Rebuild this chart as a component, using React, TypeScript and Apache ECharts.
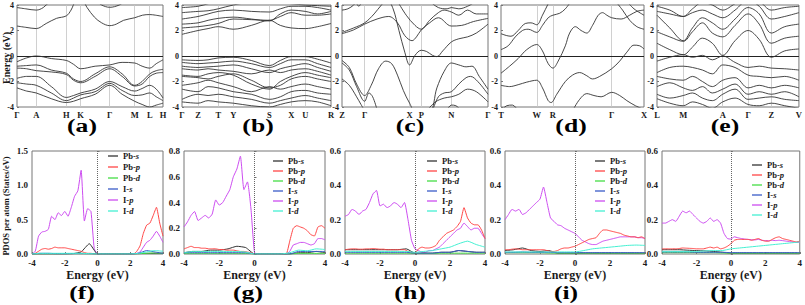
import React, { useEffect, useRef } from "react";
import * as echarts from "echarts";

const SERIF = '"Liberation Serif", "DejaVu Serif", "Times New Roman", serif';

// ---------- band structure: high-symmetry points (fraction of path, %) ----------
const A_KPOS = [0, 13.2, 33.8, 43.6, 63.5, 80.6, 90.9, 100];
const A_KLAB = ["Γ", "A", "H", "K", "Γ", "M", "L", "H"];
const B_KPOS = [0, 10.8, 24.3, 34.4, 58.7, 73.3, 82.7, 100];
const B_KLAB = ["Γ", "Z", "T", "Y", "S", "X", "U", "R"];
const C_KPOS = [0, 15.5, 46.3, 54.3, 74.9, 100];
const C_KLAB = ["Z", "Γ", "X", "P", "N", "Γ"];
const D_KPOS = [0, 25, 36.3, 77.4, 100];
const D_KLAB = ["T", "W", "R", "Γ", "X"];
const E_KPOS = [0, 18.5, 46.3, 64.2, 80.6, 100];
const E_KLAB = ["L", "M", "A", "Γ", "Z", "V"];

// ---------- (a) bands as [k, E] ----------
const A_BANDS = [
  [[0,2.35],[6,2.25],[13.2,2.15],[20,2.55],[27,2.95],[33.8,3.15],[37,3.6],[40,4.3],[43.6,4.6],[48,3.8],[53,3.05],[58,2.6],[63.5,2.38],[68,2.5],[73,2.8],[80.6,3.0],[86,3.2],[90.9,3.25],[95,3.2],[100,3.1]],
  [[0,3.8],[6,3.7],[13.2,3.6],[18,3.8],[23,4.3],[30,4.6],[50,4.6],[58,4.0],[63.5,3.82],[70,4.0],[75,4.4]],
  [[0,-0.45],[6.6,-0.15],[13.2,0],[23.5,-0.2],[33.8,-0.35],[38.7,-0.65],[43.6,-1.0],[53.5,-0.8],[63.5,-0.7],[72,-0.5],[80.6,-0.55],[85.7,-0.8],[90.9,-0.95],[95.4,-0.6],[100,-0.3]],
  [[0,-0.8],[6.6,-0.75],[13.2,-0.7],[23.5,-1.1],[33.8,-1.35],[38.7,-1.8],[43.6,-2.0],[53.5,-1.4],[63.5,-0.85],[72,-1.4],[80.6,-2.3],[85.7,-2.0],[90.9,-1.4],[95.4,-1.15],[100,-1.05]],
  [[0,-0.95],[6.6,-1.0],[13.2,-1.15],[23.5,-1.25],[33.8,-1.45],[38.7,-1.9],[43.6,-2.1],[53.5,-1.6],[63.5,-1.0],[72,-1.6],[80.6,-2.35],[85.7,-2.2],[90.9,-1.6],[95.4,-1.35],[100,-1.3]],
  [[0,-1.75],[6.6,-1.6],[13.2,-1.6],[23.5,-2.4],[33.8,-3.25],[38.7,-3.1],[43.6,-2.9],[53.5,-2.6],[63.5,-2.0],[72,-2.4],[80.6,-2.75],[85.7,-2.55],[90.9,-2.3],[95.4,-2.6],[100,-3.3]],
  [[0,-2.1],[6.6,-2.2],[13.2,-2.3],[23.5,-2.9],[33.8,-3.5],[38.7,-3.3],[43.6,-3.05],[53.5,-2.8],[63.5,-2.15],[72,-2.7],[80.6,-3.1],[85.7,-3.05],[90.9,-2.9],[95.4,-3.2],[100,-3.5]],
  [[0,-2.5],[6.6,-2.75],[13.2,-2.9],[23.5,-3.35],[33.8,-3.65],[38.7,-3.55],[43.6,-3.35],[53.5,-3.0],[63.5,-2.3],[72,-3.0],[80.6,-3.55],[85.7,-3.8],[90.9,-4.0],[95.4,-3.85],[100,-3.7]],
];

// ---------- (b) bands on a shared k sampling ----------
const B_SAMPLE = [0, 10.8, 17.5, 24.3, 34.4, 46.5, 58.7, 66, 73.3, 82.7, 91, 100];
const B_BANDS = [
  [1.7, 2.0, 2.15, 2.3, 2.1, 2.4, 2.8, 2.4, 2.2, 2.15, 2.3, 2.55],
  [2.2, 2.3, 2.4, 2.55, 2.9, 2.85, 2.8, 3.1, 3.4, 3.2, 3.2, 3.3],
  [2.5, 2.6, 2.8, 2.95, 3.05, 2.9, 2.75, 3.3, 3.6, 3.5, 3.3, 3.5],
  [2.9, 3.1, 3.3, 3.5, 3.6, 3.5, 3.45, 3.7, 3.9, 3.9, 3.8, 3.6],
  [3.4, 3.5, 3.55, 3.7, 4.0, 4.2, 4.2, 4.2, 4.1, 4.0, 3.95, 3.9],
  [3.8, 3.9, 4.1, 4.3, 4.4, 4.4, 4.5, 4.4, 4.3, 4.2, 4.2, 4.3],
  [-0.3, -0.35, -0.3, -0.15, -0.1, -0.35, -0.75, -0.35, -0.05, -0.05, -0.25, -0.55],
  [-0.5, -0.6, -0.55, -0.5, -0.4, -0.6, -0.9, -0.6, -0.3, -0.3, -0.6, -0.9],
  [-0.8, -0.9, -0.85, -0.8, -0.7, -1.0, -1.3, -1.0, -0.8, -0.6, -0.9, -1.2],
  [-1.0, -1.1, -1.0, -1.1, -1.2, -1.4, -1.1, -1.3, -1.1, -1.0, -1.2, -1.5],
  [-1.5, -1.6, -1.4, -1.3, -1.5, -2.2, -2.6, -2.0, -1.6, -1.3, -1.5, -1.7],
  [-1.6, -1.7, -1.8, -1.6, -1.4, -1.9, -2.5, -2.3, -1.8, -1.6, -1.8, -2.0],
  [-2.3, -2.1, -1.9, -2.1, -2.4, -2.8, -2.4, -2.6, -2.4, -2.2, -2.4, -2.6],
  [-2.6, -2.8, -2.4, -2.5, -2.8, -3.0, -3.4, -3.2, -2.8, -2.7, -2.9, -3.0],
  [-3.4, -3.0, -3.1, -3.0, -3.2, -3.4, -3.7, -3.5, -3.3, -3.1, -3.3, -3.5],
  [-3.6, -3.7, -3.5, -3.6, -3.7, -3.9, -4.0, -3.8, -3.6, -3.5, -3.6, -3.9],
];

// ---------- (c) bands as [k, E] ----------
const C_BANDS = [
  [[0,1.85],[8,2.2],[15.5,2.6],[22,3.3],[27,4.0],[31,4.4],[35,3.7],[39,2.0],[43,0.3],[46.3,-0.7],[50,0.05],[54.3,0.45],[58,0.35],[62,0.05],[65,-0.05],[69,0.4],[74.9,1.1],[80,1.35],[86,1.5],[92,1.8],[100,2.5]],
  [[0,1.75],[8,2.05],[15.5,2.5],[24,2.9],[32,3.1],[38,2.6],[43,1.6],[48,1.2],[51,1.5],[54.3,2.05],[60,2.6],[66,3.0],[74.9,2.35],[82,2.4],[90,2.7],[100,2.95]],
  [[38,4.3],[44,3.2],[50,2.4],[54.3,2.1],[60,2.8],[66,3.4],[70,3.6],[74.9,3.45],[80,3.2],[86,3.6],[92,3.3],[100,3.3]],
  [[0,3.6],[4,3.7],[8,4.0],[10,4.3]],
  [[9,4.4],[11.5,3.9],[14,4.4]],
  [[60,4.3],[66,3.8],[72,3.7],[74.9,3.8],[80,3.7],[86,3.9],[92,4.3]],
  [[0,-0.35],[5,-0.9],[10,-2.2],[15.5,-3.1],[20,-2.3],[25,-1.0],[30,-0.4],[34,-0.6],[38,-1.5],[42,-2.7],[46.3,-3.7],[50,-4.3],[60,-4.3],[65,-2.5],[70,-1.2],[74.9,-0.55],[80,-0.7],[85,-0.85],[89,-0.8],[94,-1.6],[100,-2.6]],
  [[0,-0.55],[5,-1.1],[10,-2.4],[15.5,-3.55],[18.5,-2.9],[21,-3.2],[24,-4.2]],
  [[0,-1.8],[5,-2.3],[10,-3.2],[13,-3.8],[15.5,-4.3]],
  [[62,-4.3],[66,-3.2],[70,-2.9],[74.9,-2.8],[80,-2.2],[85,-1.7],[88,-1.6],[93,-2.0],[100,-3.0]],
  [[58,-4.3],[64,-3.6],[70,-3.3],[74.9,-3.2],[80,-3.0],[86,-2.6],[92,-2.8],[100,-3.6]],
  [[72,-4.2],[75,-3.85],[78,-3.9],[81,-4.2]],
];

// ---------- (d) bands as [k, E] ----------
const D_BANDS = [
  [[0,1.75],[4,1.6],[7,1.55],[12,2.0],[17,2.55],[21,2.6],[25,2.45],[29,3.2],[33,4.1],[35,4.5]],
  [[0,0.5],[5,0.8],[10,1.5],[15,2.0],[19,2.1],[25,1.85],[29,2.4],[33,3.0],[36.3,3.2],[41,3.35],[45,3.7],[49,4.3]],
  [[0,-1.35],[6,-0.8],[12,-0.2],[18,0.5],[25,0.9],[29,0.4],[33,-0.6],[36.3,-0.95],[40,-0.4],[45,0.8],[48,1.8],[52,2.3],[56,2.0],[60,1.8],[64,2.4],[68,3.2],[71,3.4],[74,3.2],[77.4,3.0],[84,2.9],[90,3.2],[95,3.5],[100,3.6]],
  [[80,4.3],[85,3.6],[90,2.8],[95,2.3],[100,2.1]],
  [[88,4.3],[93,3.7],[100,3.2]],
  [[0,-2.3],[6,-2.4],[12,-2.25],[18,-2.05],[25,-1.9],[29,-2.5],[33,-3.5],[35,-3.65],[39,-3.0],[45,-2.0],[50,-1.5],[55,-1.3],[60,-1.55],[64,-1.8],[69,-1.6],[77.4,-1.0],[83,-0.4],[88,0.3],[93,0.85],[97,0.8],[100,0.55]],
  [[0,-4.3],[4,-3.9],[8,-3.85],[12,-4.3]],
  [[50,-4.3],[55,-3.4],[60,-2.95],[65,-3.1],[70,-3.2],[77.4,-2.85],[83,-3.1],[88,-3.5],[94,-3.9],[100,-4.2]],
];

// ---------- (e) bands on a shared k sampling ----------
const E_SAMPLE = [0, 9, 18.5, 25, 32, 39, 46.3, 55, 64.2, 72, 80.6, 90, 100];
const E_BANDS = [
  [1.0, 0.5, 0.1, 0.7, 1.4, 1.0, 0.05, 1.2, 2.0, 1.3, -0.1, 0.4, 0.55],
  [1.9, 1.5, 1.15, 1.9, 2.6, 1.8, 1.5, 2.4, 3.3, 2.5, 1.0, 1.4, 1.55],
  [3.2, 2.2, 1.2, 2.2, 3.0, 2.6, 2.1, 2.9, 3.8, 3.3, 1.8, 2.3, 2.5],
  [3.5, 3.3, 3.1, 3.4, 3.6, 3.3, 3.0, 3.6, 4.4, 3.9, 2.9, 3.1, 3.4],
  [3.9, 3.6, 3.1, 3.7, 4.2, 4.0, 3.6, 4.1, 4.6, 4.3, 3.6, 3.8, 3.9],
  [-0.4, -0.1, 0.1, -0.1, 0.05, -0.3, 0.0, -0.5, -0.9, -0.8, -0.95, -1.0, -1.1],
  [-1.3, -0.9, -0.8, -0.9, -1.1, -1.4, -0.7, -0.9, -1.5, -1.6, -1.7, -1.6, -1.9],
  [-1.6, -1.8, -1.9, -1.6, -2.0, -2.4, -1.9, -1.7, -2.5, -2.3, -2.5, -2.3, -2.5],
  [-2.4, -2.1, -2.5, -2.7, -2.4, -2.9, -2.6, -2.2, -3.0, -2.8, -3.0, -2.8, -3.2],
  [-3.0, -3.3, -3.1, -2.9, -3.3, -3.5, -3.0, -2.6, -3.4, -3.3, -3.2, -3.4, -3.5],
  [-3.35, -3.7, -3.9, -3.6, -3.8, -4.1, -3.6, -3.3, -3.8, -3.9, -3.7, -3.9, -4.1],
];

// ---------- PDOS ----------
const PDOS_NAMES = ["Pb-s", "Pb-p", "Pb-d", "I-s", "I-p", "I-d"];
const PDOS_COLORS = ["#333333", "#ff4646", "#44dd44", "#3a5bc8", "#cc4cf0", "#45f0d2"];
const ENERGY = [-4,-3.8,-3.6,-3.4,-3.2,-3,-2.8,-2.6,-2.4,-2.2,-2,-1.8,-1.6,-1.4,-1.2,-1,-0.8,-0.6,-0.4,-0.2,0,0.2,0.4,0.6,0.8,1,1.2,1.4,1.6,1.8,2,2.2,2.4,2.6,2.8,3,3.2,3.4,3.6,3.8,4];
const ENERGY_COARSE = [-4,-3.5,-3,-2.5,-2,-1.5,-1,-0.5,0,0.5,1,1.5,2,2.5,3,3.5,4];

// (f)
const F_PBS = [0,0,0,0,0,0.005,0.03,0.15,0,0,0,0,0,0.005,0.01,0.01,0.01];
const F_PBP = [0,0.01,0.04,0.07,0.08,0.07,0.08,0.1,0.09,0.09,0.09,0.08,0.07,0.06,0.05,0.04,0.02,0.01,0.01,0,0, 0,0,0,0,0,0,0,0,0,0,0, 0.04,0.12,0.3,0.42,0.45,0.56,0.68,0.45,0.26];
const F_PBD = [0,0.005,0.005,0.005,0.005,0.005,0.005,0.003,0,0,0,0,0,0.005,0.01,0.015,0.01];
const F_IS = [0,0.01,0.01,0.005,0.005,0.005,0.005,0.003,0,0,0,0,0,0.01,0.05,0.03,0.01];
const F_IP = [0,0.04,0.26,0.32,0.33,0.36,0.55,0.5,0.6,0.56,0.62,0.55,0.68,0.84,0.92,1.22,0.48,0.66,0.62,0.08,0, 0,0,0,0,0,0,0,0,0,0,0, 0.01,0.03,0.1,0.17,0.2,0.26,0.33,0.26,0.17];
const F_ID = [0,0.01,0.01,0.01,0.01,0.01,0.01,0.005,0,0,0,0,0,0.01,0.03,0.05,0.04];
// (g)
const G_PBS = [0.01,0.02,0.02,0.03,0.03,0.04,0.06,0.05,0,0,0,0,0,0.01,0.01,0.02,0.01];
const G_PBP = [0.04,0.05,0.06,0.05,0.05,0.045,0.045,0.04,0.04,0.04,0.035,0.035,0.03,0.03,0.03,0.025,0.02,0.02,0.015,0.01,0, 0,0,0,0,0,0,0,0,0, 0.1,0.2,0.22,0.21,0.2,0.18,0.15,0.14,0.21,0.22,0.2];
const G_PBD = [0.005,0.005,0.005,0.005,0.005,0.005,0.005,0.005,0,0,0,0,0,0.005,0.005,0.005,0.005];
const G_IS = [0.01,0.01,0.01,0.01,0.01,0.01,0.01,0.01,0,0,0,0,0,0.02,0.02,0.02,0.02];
const G_IP = [0.21,0.25,0.3,0.33,0.26,0.28,0.3,0.28,0.31,0.42,0.38,0.4,0.45,0.5,0.6,0.66,0.76,0.5,0.56,0.35,0.01, 0,0,0,0,0,0,0,0,0, 0.02,0.07,0.08,0.09,0.09,0.08,0.07,0.08,0.12,0.12,0.11];
const G_ID = [0.01,0.02,0.02,0.02,0.02,0.02,0.02,0.015,0,0,0,0,0.01,0.03,0.025,0.04,0.035];
// (h)
const H_PBS = [0.025,0.025,0.025,0.025,0.025,0.025,0.025,0.03,0.005,0.005,0.005,0.01,0.01,0.02,0.015,0.01,0.01];
const H_PBP = [0.025,0.028,0.03,0.03,0.028,0.028,0.03,0.03,0.032,0.03,0.028,0.028,0.025,0.025,0.025,0.025,0.025,0.025,0.015,0.01,0.005, 0.03,0.04,0.035,0.035,0.04,0.05,0.08,0.1,0.12,0.13,0.14,0.16,0.19,0.27,0.21,0.18,0.17,0.17,0.14,0.09];
const H_PBD = [0.005,0.005,0.005,0.005,0.005,0.005,0.005,0.005,0.003,0.003,0.003,0.005,0.005,0.005,0.005,0.005,0.005];
const H_IS = [0.01,0.01,0.01,0.01,0.01,0.01,0.01,0.01,0.005,0.005,0.005,0.01,0.01,0.02,0.015,0.01,0.01];
const H_IP = [0.22,0.23,0.26,0.25,0.23,0.25,0.26,0.3,0.35,0.37,0.28,0.29,0.27,0.28,0.3,0.29,0.27,0.3,0.2,0.08,0.03, 0.02,0.01,0.01,0.02,0.02,0.03,0.04,0.06,0.08,0.1,0.12,0.14,0.15,0.18,0.16,0.14,0.15,0.15,0.12,0.09];
const H_ID = [0.015,0.015,0.015,0.015,0.015,0.015,0.015,0.015,0.01,0.015,0.02,0.03,0.04,0.06,0.075,0.055,0.04];
// (i)
const I_PBS = [0.02,0.025,0.035,0.02,0.015,0.02,0.005,0.005,0.005,0.005,0.005,0.005,0.005,0.005,0.005,0.005,0.005];
const I_PBP = [0.025,0.025,0.028,0.03,0.028,0.025,0.025,0.025,0.025,0.025,0.025,0.025,0.02,0.015,0.015,0.02,0.03,0.035,0.035,0.04,0.045, 0.055,0.065,0.075,0.085,0.09,0.095,0.12,0.14,0.14,0.135,0.13,0.125,0.12,0.11,0.105,0.1,0.1,0.095,0.1,0.09];
const I_PBD = [0.008,0.008,0.008,0.008,0.008,0.006,0.005,0.005,0.005,0.005,0.005,0.005,0.005,0.005,0.005,0.005,0.005];
const I_IS = [0.01,0.01,0.012,0.01,0.01,0.01,0.008,0.008,0.008,0.008,0.008,0.008,0.008,0.008,0.008,0.008,0.008];
const I_IP = [0.2,0.23,0.26,0.25,0.26,0.23,0.24,0.26,0.28,0.3,0.32,0.39,0.3,0.21,0.19,0.17,0.165,0.15,0.14,0.13,0.12, 0.1,0.08,0.07,0.06,0.055,0.055,0.065,0.075,0.08,0.085,0.09,0.095,0.1,0.1,0.1,0.1,0.1,0.095,0.095,0.09];
const I_ID = [0.012,0.012,0.012,0.012,0.012,0.012,0.012,0.012,0.012,0.02,0.03,0.035,0.04,0.045,0.05,0.052,0.05];
// (j)
const J_PBS = [0.025,0.025,0.025,0.022,0.02,0.018,0.015,0.01,0.005,0.005,0.005,0.005,0.005,0.005,0.005,0.005,0.005];
const J_PBP = [0.03,0.03,0.03,0.03,0.03,0.032,0.035,0.034,0.033,0.032,0.03,0.03,0.03,0.035,0.04,0.035,0.04,0.03,0.035,0.045,0.06, 0.08,0.085,0.085,0.085,0.085,0.08,0.085,0.09,0.08,0.075,0.075,0.085,0.095,0.1,0.09,0.085,0.08,0.075,0.07,0.075];
const J_PBD = [0.008,0.008,0.008,0.008,0.008,0.008,0.008,0.006,0.005,0.005,0.005,0.005,0.005,0.005,0.005,0.005,0.005];
const J_IS = [0.012,0.012,0.012,0.012,0.01,0.01,0.01,0.01,0.008,0.008,0.008,0.008,0.008,0.008,0.008,0.008,0.008];
const J_IP = [0.18,0.18,0.19,0.2,0.19,0.22,0.25,0.24,0.25,0.23,0.21,0.19,0.18,0.19,0.21,0.19,0.2,0.18,0.12,0.09,0.087, 0.1,0.095,0.09,0.087,0.085,0.083,0.082,0.085,0.08,0.078,0.077,0.08,0.078,0.08,0.078,0.075,0.072,0.07,0.068,0.068];
const J_ID = [0.015,0.015,0.015,0.015,0.015,0.018,0.02,0.02,0.03,0.035,0.04,0.045,0.05,0.055,0.06,0.065,0.07];

const PDOS_YMAX = [1.5, 0.8, 0.6, 0.6, 0.6];
const PDOS_YSTEP = [0.5, 0.2, 0.2, 0.2, 0.2];

// ---------- layout ----------
const TOP_GRIDS = [[17, 146], [182, 149], [342, 146], [501, 143], [657, 146]];
const BOT_GRIDS = [[32, 131], [184, 141], [345, 140], [505, 140], [662, 140]];
const LEGEND_POS = [[108, 151, 1], [273, 156, 0], [427, 156, 0], [595, 156, 0], [752, 160, 0]];
const TOP_LABELS = [["(a)", 82], ["(b)", 258], ["(c)", 410], ["(d)", 571], ["(e)", 725]];
const BOT_LABELS = [["(f)", 82], ["(g)", 248], ["(h)", 410], ["(i)", 566], ["(j)", 723]];

const zip = (xs: number[], ys: number[]) => ys.map((y, i) => [xs[i], y]);

export default function App() {
  const ref = useRef<HTMLDivElement>(null);
  useEffect(() => {
    if (!ref.current) return;
    const chart = echarts.init(ref.current, undefined, { renderer: "svg" });

    const bandPanels = [
      { kpos: A_KPOS, klab: A_KLAB, bands: A_BANDS },
      { kpos: B_KPOS, klab: B_KLAB, bands: B_BANDS.map((b) => zip(B_SAMPLE, b)) },
      { kpos: C_KPOS, klab: C_KLAB, bands: C_BANDS },
      { kpos: D_KPOS, klab: D_KLAB, bands: D_BANDS },
      { kpos: E_KPOS, klab: E_KLAB, bands: E_BANDS.map((b) => zip(E_SAMPLE, b)) },
    ];
    const pdosPanels = [
      [F_PBS, F_PBP, F_PBD, F_IS, F_IP, F_ID],
      [G_PBS, G_PBP, G_PBD, G_IS, G_IP, G_ID],
      [H_PBS, H_PBP, H_PBD, H_IS, H_IP, H_ID],
      [I_PBS, I_PBP, I_PBD, I_IS, I_IP, I_ID],
      [J_PBS, J_PBP, J_PBD, J_IS, J_IP, J_ID],
    ];

    const grid: any[] = [];
    const xAxis: any[] = [];
    const yAxis: any[] = [];
    const series: any[] = [];
    const legend: any[] = [];
    const lblStyle = { fontFamily: SERIF, fontWeight: "bold", color: "#1a1a1a" };

    TOP_GRIDS.forEach(([l, w], i) => {
      grid.push({ left: l, top: 5, width: w, height: 102, show: true, borderColor: "#777", borderWidth: 1, backgroundColor: "transparent" });
      const p = bandPanels[i];
      xAxis.push({
        type: "value", gridIndex: i, min: 0, max: 100,
        axisLine: { show: false }, axisTick: { show: false }, splitLine: { show: false },
        axisLabel: { ...lblStyle, fontSize: 8.5, margin: 3, customValues: p.kpos, formatter: (v: number) => p.klab[p.kpos.indexOf(v)] ?? "" },
      });
      yAxis.push({
        type: "value", gridIndex: i, min: -4, max: 4, interval: 2,
        axisLine: { show: false }, axisTick: { show: true, inside: true, length: 2, lineStyle: { color: "#777" } }, splitLine: { show: false },
        axisLabel: { ...lblStyle, fontSize: 8, margin: 3 },
      });
      p.bands.forEach((b: any, j: number) => {
        const s: any = {
          type: "line", xAxisIndex: i, yAxisIndex: i, data: b, symbol: "none", smooth: 0.35, silent: true,
          lineStyle: { color: "#333", width: 0.9 }, z: 3,
        };
        if (j === 0) {
          s.markLine = {
            silent: true, symbol: ["none", "none"], label: { show: false }, z: 1,
            data: [
              ...p.kpos.slice(1, -1).map((v) => ({ xAxis: v, lineStyle: { color: "#c4c4c4", width: 0.8, type: "solid" } })),
              { yAxis: 0, lineStyle: { color: "#222", width: 1, type: "solid" } },
            ],
          };
        }
        series.push(s);
      });
    });

    BOT_GRIDS.forEach(([l, w], k) => {
      const i = k + 5;
      grid.push({ left: l, top: 151, width: w, height: 103, show: true, borderColor: "#777", borderWidth: 1, backgroundColor: "transparent" });
      xAxis.push({
        type: "value", gridIndex: i, min: -4, max: 4, interval: 2,
        axisLine: { show: false }, axisTick: { show: true, inside: true, length: 2, lineStyle: { color: "#777" } }, splitLine: { show: false },
        axisLabel: { ...lblStyle, fontSize: 9, margin: 4 },
        name: "Energy (eV)", nameLocation: "middle", nameGap: 15,
        nameTextStyle: { ...lblStyle, fontSize: 12 },
      });
      yAxis.push({
        type: "value", gridIndex: i, min: 0, max: PDOS_YMAX[k], interval: PDOS_YSTEP[k],
        axisLine: { show: false }, axisTick: { show: true, inside: true, length: 2, lineStyle: { color: "#777" } }, splitLine: { show: false },
        axisLabel: { ...lblStyle, fontSize: 9, margin: 4, formatter: (v: number) => v.toFixed(1) },
      });
      pdosPanels[k].forEach((vals, j) => {
        const xs = vals.length === ENERGY.length ? ENERGY : ENERGY_COARSE;
        const s: any = {
          name: PDOS_NAMES[j], type: "line", xAxisIndex: i, yAxisIndex: i, data: zip(xs, vals),
          symbol: "none", smooth: 0.15, silent: true,
          itemStyle: { color: PDOS_COLORS[j] }, lineStyle: { color: PDOS_COLORS[j], width: 1 }, z: 3 + (j === 4 ? 0 : 1),
        };
        if (j === 0) {
          s.markLine = {
            silent: true, symbol: ["none", "none"], label: { show: false },
            data: [{ xAxis: 0, lineStyle: { color: "#666", width: 1, type: "dotted" } }],
          };
        }
        series.push(s);
      });
      const [lx, ly, gap] = LEGEND_POS[k];
      legend.push({
        data: PDOS_NAMES.map((n, j) => ({ name: n, icon: "rect", itemStyle: { color: PDOS_COLORS[j] } })),
        orient: "vertical", left: lx, top: ly, padding: 0, itemGap: gap,
        itemWidth: 10, itemHeight: 1.3, selectedMode: false,
        formatter: (n: string) => {
          const idx = n.indexOf("-");
          return `{n|${n.slice(0, idx + 1)}}{o|${n.slice(idx + 1)}}`;
        },
        textStyle: {
          lineHeight: 10,
          rich: {
            n: { fontFamily: SERIF, fontWeight: "bold", fontSize: 8.5, color: "#1a1a1a", lineHeight: 10 },
            o: { fontFamily: SERIF, fontWeight: "bold", fontStyle: "italic", fontSize: 8.5, color: "#1a1a1a", lineHeight: 10 },
          },
        },
      });
    });

    const graphic: any[] = [
      { type: "text", x: 6, y: 58, rotation: Math.PI / 2, style: { text: "Energy (eV)", font: `bold 10px ${SERIF}`, fill: "#1a1a1a", textAlign: "center", textVerticalAlign: "middle" } },
      { type: "text", x: 6, y: 206, rotation: Math.PI / 2, style: { text: "PDOS per atom (States/eV)", font: `bold 8.5px ${SERIF}`, fill: "#1a1a1a", textAlign: "center", textVerticalAlign: "middle" } },
      ...TOP_LABELS.map(([t, x]) => ({ type: "text", x, y: 126, scaleX: 1.35, style: { text: t, font: `bold 19px ${SERIF}`, fill: "#000", textAlign: "center", textVerticalAlign: "middle" } })),
      ...BOT_LABELS.map(([t, x]) => ({ type: "text", x, y: 293, scaleX: 1.35, style: { text: t, font: `bold 19px ${SERIF}`, fill: "#000", textAlign: "center", textVerticalAlign: "middle" } })),
    ];

    chart.setOption({ animation: false, backgroundColor: "#fff", grid, xAxis, yAxis, series, legend, graphic });
    return () => chart.dispose();
  }, []);
  return <div ref={ref} style={{ position: "fixed", left: 0, top: 0, width: 805, height: 305 }} />;
}
